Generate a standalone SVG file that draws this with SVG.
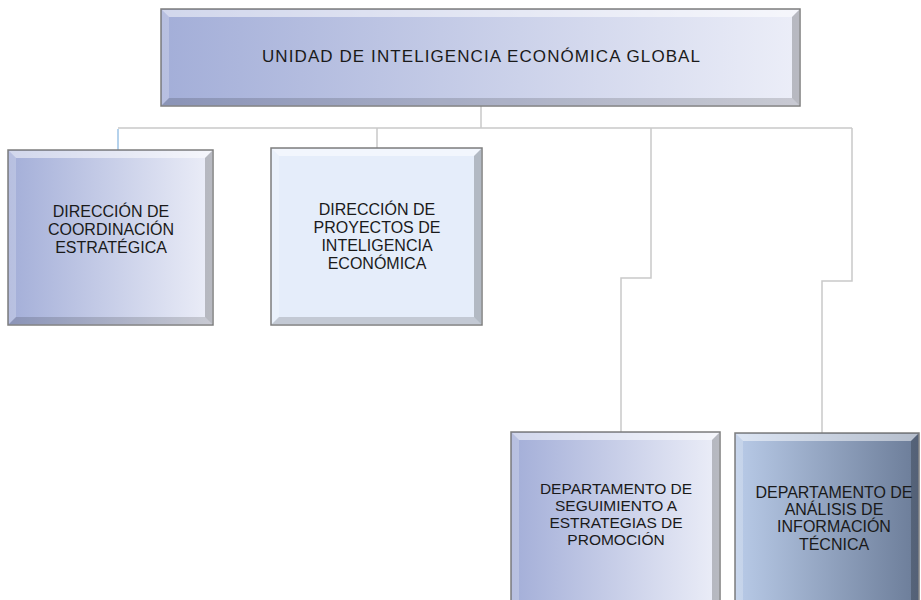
<svg xmlns="http://www.w3.org/2000/svg" width="921" height="600" viewBox="0 0 921 600">
  <defs>
    <linearGradient id="gPurple" x1="0" y1="0" x2="1" y2="0">
      <stop offset="0" stop-color="#a3aed8"/>
      <stop offset="1" stop-color="#eceef8"/>
    </linearGradient>
    <linearGradient id="gSlate" x1="0" y1="0" x2="1" y2="0">
      <stop offset="0" stop-color="#b9cbe8"/>
      <stop offset="1" stop-color="#6b7c98"/>
    </linearGradient>
    <style>
      .box { stroke: #7d7d7d; stroke-width: 1.5; }
      .hl { fill: #ffffff; opacity: 0.5; }
      .hl2 { fill: #ffffff; opacity: 0.22; }
      .sh { fill: #000000; opacity: 0.22; }
      .sh2 { fill: #000000; opacity: 0.15; }
      .lbl { font-family: "Liberation Sans", Arial, sans-serif; font-size: 16px; fill: #1a1a1a; text-anchor: middle; }
      .tight { font-size: 15.5px; }
      .top { font-family: "Liberation Sans", Arial, sans-serif; font-size: 17px; fill: #1a1a1a; text-anchor: middle; }
      .conn { fill: none; stroke: #c9c9c9; stroke-width: 1.5; }
    </style>
  </defs>

  <g id="connectors">
    <path class="conn" d="M481,106 V128 M118,128 H852 M377,128 V148 M651,128 V278 H621 V432 M852,128 V281 H822 V433"/>
    <path fill="none" stroke="#9cc3e6" stroke-width="1.5" d="M118,129 V150"/>
  </g>

  <g id="unidad">
    <rect class="box" x="161" y="9" width="639" height="97" fill="url(#gPurple)"/>
    <polygon class="hl" points="162,10 799,10 792,17 169,17"/>
    <polygon class="hl2" points="162,10 169,17 169,98 162,105"/>
    <polygon class="sh" points="799,10 799,105 792,98 792,17"/>
    <polygon class="sh2" points="162,105 799,105 792,98 169,98"/>
    <text class="top" x="481" y="62" textLength="438" lengthAdjust="spacing">UNIDAD DE INTELIGENCIA ECONÓMICA GLOBAL</text>
  </g>

  <g id="coordinacion">
    <rect class="box" x="8" y="150" width="205" height="175" fill="url(#gPurple)"/>
    <polygon class="hl" points="9,151 212,151 205,158 16,158"/>
    <polygon class="hl2" points="9,151 16,158 16,317 9,324"/>
    <polygon class="sh" points="212,151 212,324 205,317 205,158"/>
    <polygon class="sh2" points="9,324 212,324 205,317 16,317"/>
    <text class="lbl" x="111" y="217">DIRECCIÓN DE</text>
    <text class="lbl" x="111" y="235">COORDINACIÓN</text>
    <text class="lbl" x="111" y="253">ESTRATÉGICA</text>
  </g>

  <g id="proyectos">
    <rect class="box" x="271" y="148" width="211" height="177" fill="#e5edfa"/>
    <polygon class="hl" points="272,149 481,149 474,156 279,156"/>
    <polygon class="hl2" points="272,149 279,156 279,317 272,324"/>
    <polygon class="sh" points="481,149 481,324 474,317 474,156"/>
    <polygon class="sh2" points="272,324 481,324 474,317 279,317"/>
    <text class="lbl" x="377" y="215">DIRECCIÓN DE</text>
    <text class="lbl" x="377" y="233">PROYECTOS DE</text>
    <text class="lbl" x="377" y="251">INTELIGENCIA</text>
    <text class="lbl" x="377" y="269">ECONÓMICA</text>
  </g>

  <g id="seguimiento">
    <rect class="box" x="511" y="432" width="209" height="180" fill="url(#gPurple)"/>
    <polygon class="hl" points="512,433 719,433 712,440 519,440"/>
    <polygon class="hl2" points="512,433 519,440 519,612 512,612"/>
    <polygon class="sh" points="719,433 719,612 712,612 712,440"/>
    <text class="lbl tight" x="616" y="494">DEPARTAMENTO DE</text>
    <text class="lbl tight" x="616" y="511">SEGUIMIENTO A</text>
    <text class="lbl tight" x="616" y="528">ESTRATEGIAS DE</text>
    <text class="lbl tight" x="616" y="545">PROMOCIÓN</text>
  </g>

  <g id="analisis">
    <rect class="box" x="735" y="433" width="184" height="180" fill="url(#gSlate)"/>
    <polygon class="hl" points="736,434 918,434 911,441 743,441"/>
    <polygon class="hl2" points="736,434 743,441 743,613 736,613"/>
    <polygon class="sh" points="918,434 918,613 911,613 911,441"/>
    <text class="lbl" x="834" y="498">DEPARTAMENTO DE</text>
    <text class="lbl" x="834" y="515">ANÁLISIS DE</text>
    <text class="lbl" x="834" y="532">INFORMACIÓN</text>
    <text class="lbl" x="834" y="550">TÉCNICA</text>
  </g>
</svg>
